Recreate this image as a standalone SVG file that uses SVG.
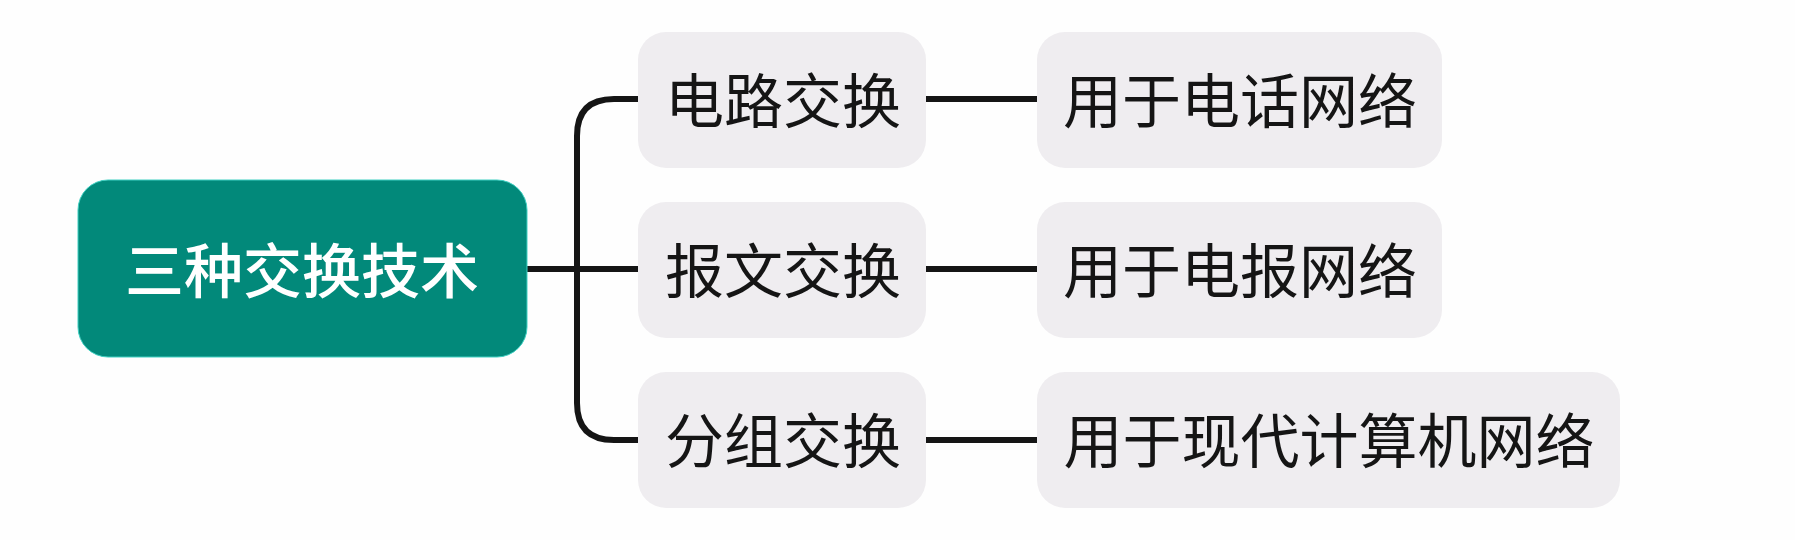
<svg xmlns="http://www.w3.org/2000/svg" width="1795" height="540" viewBox="0 0 1795 540">
  <style>
    .lbl { font-family: "Noto Sans CJK SC", "Noto Sans", sans-serif; font-size: 59px; text-anchor: middle; dominant-baseline: central; fill: #151515; }
    .root-lbl { fill: #ffffff; font-weight: 500; }
    .node { fill: #efedf0; }
    .root { fill: #02897a; stroke: #3fd0c2; stroke-width: 1; }
    .conn { fill: none; stroke: #151515; stroke-width: 6; stroke-linecap: butt; }
  </style>
  <rect x="0" y="0" width="1795" height="540" fill="#fefefe"/>
  <g id="connectors">
    <path class="conn" d="M527 269 H638"/>
    <path class="conn" d="M638 99 H614 Q577 99 577 136 V403 Q577 440 614 440 H638"/>
    <path class="conn" d="M926 99 H1037"/>
    <path class="conn" d="M926 269 H1037"/>
    <path class="conn" d="M926 440 H1037"/>
  </g>
  <g id="root">
    <rect class="root" x="78" y="180" width="449" height="177" rx="30"/>
    <text class="lbl root-lbl" x="302" y="267">三种交换技术</text>
  </g>
  <g id="circuit">
    <rect class="node" x="638" y="32" width="288" height="136" rx="28"/>
    <text class="lbl" x="783" y="97">电路交换</text>
  </g>
  <g id="message">
    <rect class="node" x="638" y="202" width="288" height="136" rx="28"/>
    <text class="lbl" x="783" y="267">报文交换</text>
  </g>
  <g id="packet">
    <rect class="node" x="638" y="372" width="288" height="136" rx="28"/>
    <text class="lbl" x="783" y="437">分组交换</text>
  </g>
  <g id="phone">
    <rect class="node" x="1037" y="32" width="405" height="136" rx="28"/>
    <text class="lbl" x="1240" y="97">用于电话网络</text>
  </g>
  <g id="telegraph">
    <rect class="node" x="1037" y="202" width="405" height="136" rx="28"/>
    <text class="lbl" x="1240" y="267">用于电报网络</text>
  </g>
  <g id="computer">
    <rect class="node" x="1037" y="372" width="583" height="136" rx="28"/>
    <text class="lbl" x="1329" y="437">用于现代计算机网络</text>
  </g>
</svg>
